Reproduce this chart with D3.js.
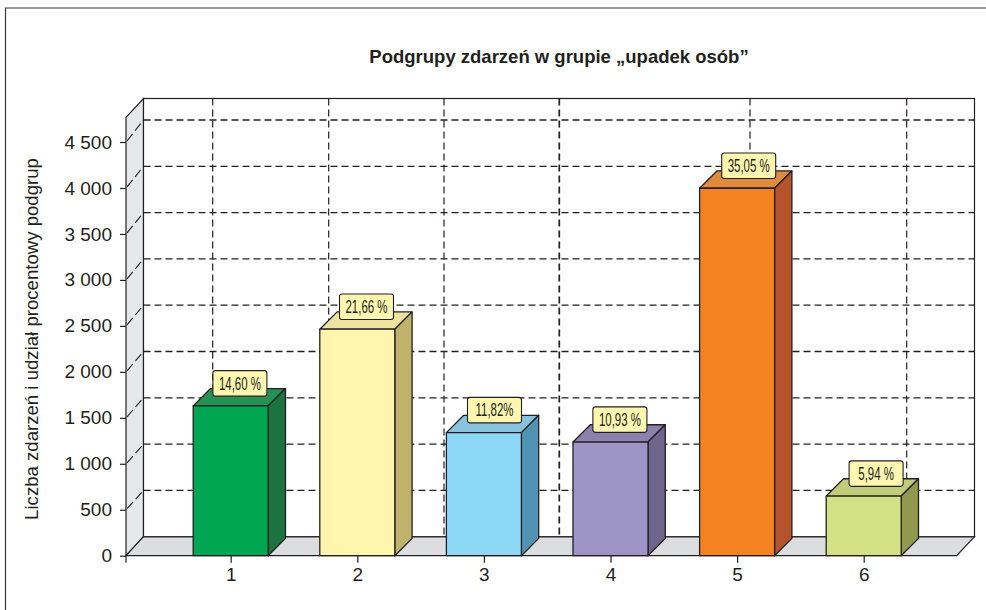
<!DOCTYPE html>
<html><head><meta charset="utf-8">
<script src="https://cdn.jsdelivr.net/npm/d3@7"></script>
<style>html,body{margin:0;padding:0;background:#fff}svg{display:block}text{fill:#231f20;font-family:"Liberation Sans",Arial,sans-serif}</style>
</head><body><svg id="c" width="986" height="610"></svg>
<script>
const categories = ["1","2","3","4","5","6"];
const values = [1630, 2464, 1339, 1236, 3997, 649];
const shares = ["14,60 %","21,66 %","11,82%","10,93 %","35,05 %","5,94 %"];
const yTicks = [0,500,1000,1500,2000,2500,3000,3500,4000,4500];
const frontColors = ["#00a651","#fff5ac","#8dd7f7","#9e95c7","#f58220","#d2e184"];
const sideColors  = ["#1c7340","#bfb26a","#5193b5","#6c668c","#b5532b","#92994f"];
const topColors   = ["#239254","#ece3a0","#87c3dd","#8a82ae","#e08a3c","#bfcc7a"];
const titleText = "Podgrupy zdarzeń w grupie „upadek osób”";
const yTitle = "Liczba zdarzeń i udział procentowy podgrup";

// layout
const ink = "#231f20";
const wall = {x0:126, x1:956.7, yBase:555.7, yTop:117.3, bx0:143.5, bx1:974.5, byBase:536.7, byTop:98.5};
const gridColumns = [212.7,328.7,444,559.3,750,906.7];
const labelNudge = [9.2,9.2,10.6,9.4,11.6,12.4];
const barW = 75, depth = 17.3, boxW = 54, boxH = 25.5, boxGap = 9.7;

const svg = d3.select("#c");
const x = d3.scalePoint().domain(categories).range([230.7,863.7]);
const y = d3.scaleLinear().domain([0,4500]).range([wall.yBase,142]);
const yBack = d3.scaleLinear().domain([0,4500]).range([wall.byBase,120]);
const poly = p => p.map(d=>d.join(",")).join(" ");

// frame
svg.append("path").attr("d","M5.5,610V8H986").attr("fill","none").attr("stroke","#3a3a3a").attr("stroke-width",1.2);

// title
svg.append("text").attr("x",559).attr("y",63).attr("text-anchor","middle")
  .attr("font-size",18.5).attr("font-weight","bold").text(titleText);
svg.append("text").attr("transform","translate(38,339) rotate(-90)").attr("text-anchor","middle")
  .attr("font-size",18.6).text(yTitle);

// walls
const S = {stroke:ink,"stroke-width":1.2,"stroke-linejoin":"miter"};
const sty = (s,o)=>{for(const k in o)s.attr(k,o[k]);return s;};
sty(svg.append("polygon").attr("points",poly([[wall.x0,wall.yTop],[wall.bx0,wall.byTop],[wall.bx0,wall.byBase],[wall.x0,wall.yBase]])).attr("fill","#e6e7e8"),S);
sty(svg.append("polygon").attr("points",poly([[wall.x0,wall.yBase],[wall.bx0,wall.byBase],[wall.bx1,wall.byBase],[wall.x1,wall.yBase]])).attr("fill","#dcddde"),S);
sty(svg.append("rect").attr("x",wall.bx0).attr("y",wall.byTop).attr("width",wall.bx1-wall.bx0).attr("height",wall.byBase-wall.byTop).attr("fill","#fff"),S);

// grid
const grid = svg.append("g").attr("fill","none").attr("stroke",ink).attr("stroke-width",1.3).attr("stroke-dasharray","7,4");
grid.selectAll(".h").data(yTicks.slice(1)).join("line").attr("class","h")
  .attr("x1",wall.bx0).attr("x2",wall.bx1).attr("y1",d=>yBack(d)).attr("y2",d=>yBack(d));
grid.selectAll(".v").data(gridColumns).join("line").attr("class","v")
  .attr("x1",d=>d).attr("x2",d=>d).attr("y1",wall.byTop).attr("y2",wall.byBase)
  .attr("stroke-width",(d,i)=>i===3?1.7:1.2);
grid.selectAll(".d").data(yTicks.slice(1)).join("line").attr("class","d")
  .attr("x1",wall.x0+1).attr("x2",wall.bx0).attr("y1",d=>y(d)-1).attr("y2",d=>yBack(d))
  .attr("stroke-dasharray","9,4").attr("stroke-width",1.1);

// bars
const bars = svg.append("g").selectAll("g").data(categories).join("g");
const edge = {stroke:ink,"stroke-width":1.3,"stroke-linejoin":"round"};
bars.each(function(c,i){
  const g = d3.select(this), l = x(c)-barW/2, r = l+barW, t = y(values[i]), b = y(0);
  sty(g.append("polygon").attr("points",poly([[l,t],[l+depth,t-depth],[r+depth,t-depth],[r,t]])).attr("fill",topColors[i]),edge);
  sty(g.append("polygon").attr("points",poly([[r,t],[r+depth,t-depth],[r+depth,b-depth],[r,b]])).attr("fill",sideColors[i]),edge);
  sty(g.append("rect").attr("x",l).attr("y",t).attr("width",barW).attr("height",b-t).attr("fill",frontColors[i]),edge);
});

// value labels
const labels = svg.append("g").selectAll("g").data(categories).join("g")
  .attr("transform",(c,i)=>`translate(${x(c)+labelNudge[i]},${y(values[i])-boxGap-boxH})`);
labels.append("rect").attr("x",-boxW/2).attr("width",boxW).attr("height",boxH).attr("rx",2.5)
  .attr("fill","#fff7b0").attr("stroke",ink).attr("stroke-width",1.1);
labels.append("text").attr("transform",`translate(0,${boxH/2+6.3}) scale(0.62,1)`).attr("text-anchor","middle")
  .attr("font-size",18.5).text((c,i)=>shares[i]);

// axes
const fmt = d => d>=1000 ? `${Math.floor(d/1000)} ${String(d%1000).padStart(3,"0")}` : String(d);
const ay = svg.append("g").attr("transform",`translate(${wall.x0},0)`)
  .call(d3.axisLeft(y).tickValues(yTicks).tickFormat(fmt).tickSize(6).tickPadding(8).tickSizeOuter(0));
const ax = svg.append("g").attr("transform",`translate(0,${wall.yBase})`)
  .call(d3.axisBottom(x).tickSize(7).tickPadding(5).tickSizeOuter(0));
ay.select(".domain").remove(); ax.select(".domain").remove();
[ay,ax].forEach(a=>{
  a.selectAll("line").attr("stroke",ink).attr("stroke-width",1.2);
  a.selectAll("text").attr("font-size",19).style("fill",ink).attr("font-family",'"Liberation Sans",sans-serif');
});
sty(svg.append("line").attr("x1",wall.x0).attr("x2",wall.x0).attr("y1",wall.yBase).attr("y2",wall.yBase+7),{stroke:ink,"stroke-width":1.2});
</script></body></html>
